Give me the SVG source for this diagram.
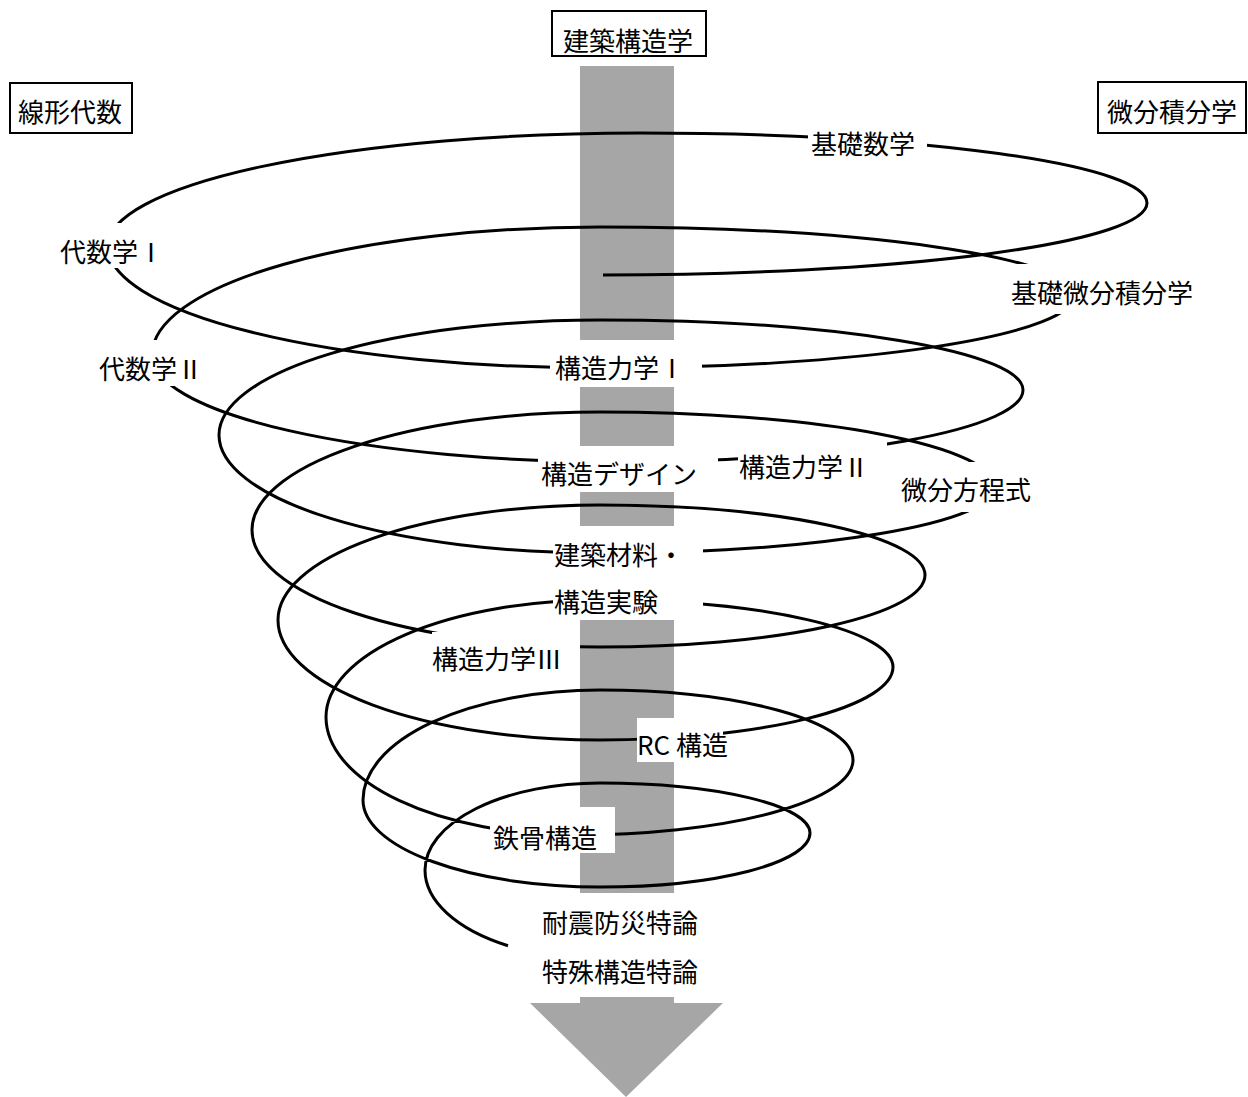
<svg xmlns="http://www.w3.org/2000/svg" width="1248" height="1097" viewBox="0 0 1248 1097">
<defs>
<style>
.t{font-family:"Noto Sans CJK JP","Noto Sans CJK SC",sans-serif;font-size:26px;fill:#000}
.bg{fill:#fff;stroke:none}
.title{fill:#fff;stroke:#000;stroke-width:2}
.bar{fill:#a6a6a6}
.sp{fill:none;stroke:#000;stroke-width:3;stroke-linecap:butt}
</style>
</defs>
<rect width="1248" height="1097" fill="#fff"/>
<g id="axis">
<rect class="bar" x="580" y="66" width="94" height="937"/>
<polygon class="bar" points="530,1003 723,1003 626,1097"/>
</g>
<g id="connectors">
<path class="sp" d="M603 275 A544 72 0 0 0 1147 203 A507 70 0 0 0 640 133 A532 113 0 0 0 108 246 A492 122 0 0 0 600 368 A475 73 0 0 0 1075 295 A475 68 0 0 0 600 227 A448 128 0 0 0 152 355 A468 107 0 0 0 620 462 A403 72 0 0 0 1023 390 A423 70 0 0 0 600 320 A381 115 0 0 0 219 435 A381 118 0 0 0 600 553 A395 66 0 0 0 995 487 A395 75 0 0 0 600 412 A348 118 0 0 0 252 530 A348 117 0 0 0 600 647 A325 72 0 0 0 925 575 A325 70 0 0 0 600 505 A322 115 0 0 0 278 620 A322 120 0 0 0 600 740 A293 73 0 0 0 893 667 A293 67 0 0 0 600 600 A274 117 0 0 0 326 717 A249 118 0 0 0 575 835 A278 75 0 0 0 853 760 A253 70 0 0 0 600 690 A237 110 0 0 0 363 800 A237 87 0 0 0 600 887 A210 54 0 0 0 810 833 A210 50 0 0 0 600 783 A175 87 0 0 0 425 870 A175 89 0 0 0 508 945.7"/>
</g>
<g id="n-kenchiku-kozogaku"><rect class="title" x="552" y="11" width="154" height="45"/><text class="t" x="563" y="51">建築構造学</text></g>
<g id="n-senkei-daisu"><rect class="title" x="10" y="83" width="122" height="50"/><text class="t" x="18" y="122">線形代数</text></g>
<g id="n-bibun-sekibungaku"><rect class="title" x="1098" y="82" width="148" height="51"/><text class="t" x="1107" y="122">微分積分学</text></g>
<g id="n-kiso-sugaku"><rect class="bg" x="808" y="128" width="119" height="34"/><text class="t" x="811" y="154">基礎数学</text></g>
<g id="n-daisugaku1"><rect class="bg" x="55" y="223" width="110" height="45"/><text class="t" x="60" y="262">代数学Ⅰ</text></g>
<g id="n-kiso-bibun"><rect class="bg" x="1005" y="264" width="195" height="50"/><text class="t" x="1011" y="303">基礎微分積分学</text></g>
<g id="n-daisugaku2"><rect class="bg" x="95" y="340" width="110" height="46"/><text class="t" x="99" y="379">代数学Ⅱ</text></g>
<g id="n-kozo-rikigaku1"><rect class="bg" x="550" y="340" width="152" height="47"/><text class="t" x="555" y="378">構造力学Ⅰ</text></g>
<g id="n-kozo-design"><rect class="bg" x="538" y="446" width="180" height="46"/><text class="t" x="541" y="484">構造デザイン</text></g>
<g id="n-kozo-rikigaku2"><rect class="bg" x="738" y="440" width="149" height="48"/><text class="t" x="739" y="477">構造力学Ⅱ</text></g>
<g id="n-bibun-hoteishiki"><rect class="bg" x="898" y="462" width="137" height="50"/><text class="t" x="901" y="500">微分方程式</text></g>
<g id="n-zairyo-jikken"><rect class="bg" x="553" y="526" width="150" height="94"/><text class="t" x="554" y="565">建築材料・</text><text class="t" x="554" y="612">構造実験</text></g>
<g id="n-kozo-rikigaku3"><rect class="bg" x="432" y="632" width="148" height="48"/><text class="t" x="432" y="669">構造力学Ⅲ</text></g>
<g id="n-rc"><rect class="bg" x="637" y="718" width="86" height="44"/><text class="t" x="637" y="755">RC 構造</text></g>
<g id="n-tekkotsu"><rect class="bg" x="490" y="807" width="125" height="46"/><text class="t" x="493" y="848">鉄骨構造</text></g>
<g id="n-tokuron"><rect class="bg" x="530" y="893" width="180" height="104"/><text class="t" x="542" y="933">耐震防災特論</text><text class="t" x="542" y="982">特殊構造特論</text></g>
</svg>
